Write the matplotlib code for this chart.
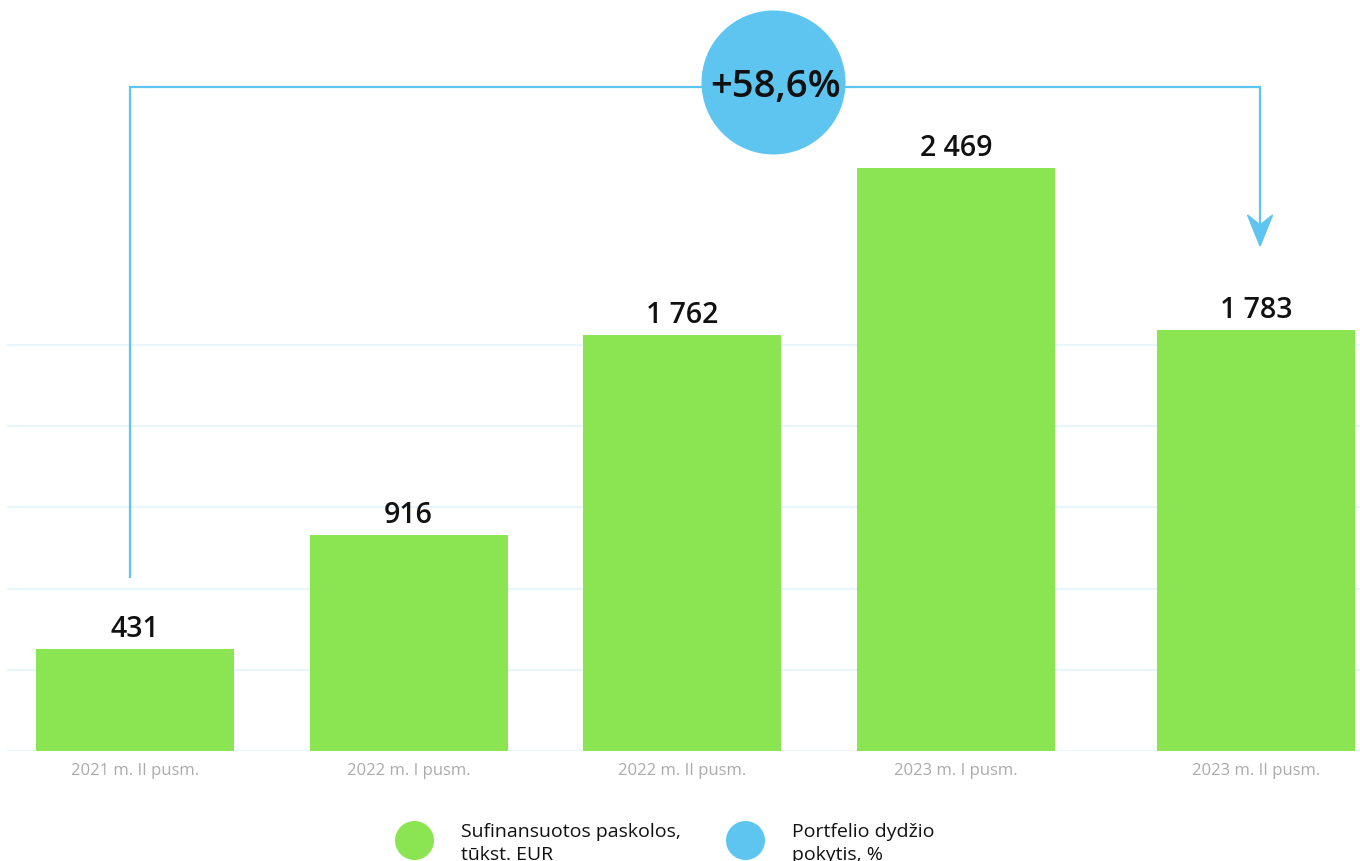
import matplotlib
matplotlib.use("Agg")
import matplotlib.pyplot as plt
import matplotlib.transforms as mtransforms
from matplotlib.patches import Polygon
from matplotlib.lines import Line2D

# ---------------- data ----------------
periods = ["2021 m. II pusm.", "2022 m. I pusm.", "2022 m. II pusm.",
           "2023 m. I pusm.", "2023 m. II pusm."]
loans = [431, 916, 1762, 2469, 1783]          # Sufinansuotos paskolos, tūkst. EUR
portfolio_change = 58.6                        # Portfelio dydžio pokytis, %
legend_labels = ["Sufinansuotos paskolos,\ntūkst. EUR", "Portfelio dydžio\npokytis, %"]

# ---------------- style ----------------
GREEN = "#8BE553"
BLUE = "#5EC5F0"
GRID = "#E9F4FB"
TICK = "#ABABAB"
FONT = ["Open Sans", "DejaVu Sans"]
plt.rcParams["font.family"] = FONT

W, H, DPI = 1360, 862, 100
fig = plt.figure(figsize=(W / DPI, H / DPI), dpi=DPI)
base_px = 752                     # baseline (px from top)
ax = fig.add_axes([0, (H - base_px) / H, 1, base_px / H])

px_per_cat = 273.67
px_per_unit = 0.236
xmin = -135 / px_per_cat
ax.set_xlim(xmin, xmin + W / px_per_cat)
ax.set_ylim(0, base_px / px_per_unit)

positions = [0, 1, 2, 3, 4.096]
bar_w = 198 / px_per_cat

# gridlines
grid_step = 81.2 / px_per_unit
for k in range(6):
    ax.axhline(k * grid_step, xmin=8 / W, xmax=1, color=GRID, lw=1.5, zorder=0)

bars = ax.bar(positions, loans, width=bar_w, color=GREEN, zorder=2)

def fmt(v):
    return f"{v:,}".replace(",", " ")

for x, v in zip(positions, loans):
    ax.annotate(fmt(v), xy=(x, v), xytext=(0, 9.4), textcoords="offset points",
                ha="center", va="baseline", fontsize=20.5, fontweight="semibold",
                color="#111111", zorder=4)

ax.set_xticks(positions)
ax.set_xticklabels(periods, fontsize=12, color=TICK)
ax.tick_params(axis="x", length=0, pad=8.0)
ax.set_yticks([])
for s in ax.spines.values():
    s.set_visible(False)

# bracket with arrow (x in data, y in axes fraction)
trans = mtransforms.blended_transform_factory(ax.transData, ax.transAxes)
def fy(p):
    return (base_px - p) / base_px
xl = positions[0] - 0.018
xr = positions[-1] + 0.015
ax.plot([xl, xl, xr, xr], [fy(578), fy(88), fy(88), fy(226)], color=BLUE, lw=1.6,
        transform=trans, zorder=3, solid_joinstyle="miter", clip_on=False)
hw = 12.5 / px_per_cat
head = Polygon([[xr, fy(247)], [xr - hw, fy(216)], [xr, fy(226)], [xr + hw, fy(216)]],
               closed=True, transform=trans, color=BLUE, zorder=3, clip_on=False)
ax.add_patch(head)

# change bubble
cx, cy = 773 / W, 1 - 83 / H
fig.add_artist(Line2D([cx], [cy], marker="o", markersize=144 * 72 / DPI,
                      markerfacecolor=BLUE, markeredgecolor="none",
                      transform=fig.transFigure, zorder=5))
fig.text(776 / W, 1 - 87 / H, f"+{portfolio_change:.1f}%".replace(".", ","),
         ha="center", va="center", fontsize=27.5, fontweight="semibold",
         color="#111111", zorder=6)

# legend
for (mx, tx), col, lab in zip([(414, 461), (745, 792)], [GREEN, BLUE], legend_labels):
    fig.add_artist(Line2D([mx / W], [1 - 841 / H], marker="o", markersize=39 * 72 / DPI,
                          markerfacecolor=col, markeredgecolor="none",
                          transform=fig.transFigure))
    for line, base in zip(lab.split("\n"), [837, 860]):
        fig.text(tx / W, 1 - base / H, line, ha="left", va="baseline", fontsize=14,
                 color="#111111")

fig.savefig("out.png", dpi=DPI)
